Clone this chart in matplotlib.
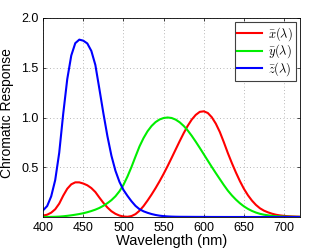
import numpy as np
import matplotlib.pyplot as plt

plt.rcParams['font.family'] = ['Liberation Sans', 'DejaVu Sans']
plt.rcParams['mathtext.fontset'] = 'cm'

# CIE 1931 colour matching functions, 5 nm steps
wavelength = np.arange(400, 725, 5)
x_bar = [0.01431, 0.02319, 0.04351, 0.07763, 0.13438, 0.21477, 0.2839, 0.3285, 0.34828, 0.34806,
         0.3362, 0.3187, 0.2908, 0.2511, 0.19536, 0.1421, 0.09564, 0.05795, 0.03201, 0.0147,
         0.0049, 0.0024, 0.0093, 0.0291, 0.06327, 0.1096, 0.1655, 0.22575, 0.2904, 0.3597,
         0.43345, 0.51205, 0.5945, 0.6784, 0.7621, 0.8425, 0.9163, 0.9786, 1.0263, 1.0567,
         1.0622, 1.0456, 1.0026, 0.9384, 0.85445, 0.7514, 0.6424, 0.5419, 0.4479, 0.3608,
         0.2835, 0.2187, 0.1649, 0.1212, 0.0874, 0.0636, 0.04677, 0.0329, 0.0227, 0.01584,
         0.011359, 0.008111, 0.00579, 0.004109, 0.002899]
y_bar = [0.000396, 0.00064, 0.00121, 0.00218, 0.004, 0.0073, 0.0116, 0.01684, 0.023, 0.0298,
         0.038, 0.048, 0.06, 0.0739, 0.09098, 0.1126, 0.13902, 0.1693, 0.20802, 0.2586,
         0.323, 0.4073, 0.503, 0.6082, 0.71, 0.7932, 0.862, 0.91485, 0.954, 0.9803,
         0.99495, 1.0, 0.995, 0.9786, 0.952, 0.9154, 0.87, 0.8163, 0.757, 0.6949,
         0.631, 0.5668, 0.503, 0.4412, 0.381, 0.321, 0.265, 0.217, 0.175, 0.1382,
         0.107, 0.0816, 0.061, 0.04458, 0.032, 0.0232, 0.017, 0.01192, 0.00821, 0.005723,
         0.004102, 0.002929, 0.002091, 0.001484, 0.001047]
z_bar = [0.06785, 0.1102, 0.2074, 0.3713, 0.6456, 1.03905, 1.3856, 1.62296, 1.74706, 1.7826,
         1.77211, 1.7441, 1.6692, 1.5281, 1.28764, 1.0419, 0.81295, 0.6162, 0.46518, 0.3533,
         0.272, 0.2123, 0.1582, 0.1117, 0.07825, 0.05725, 0.04216, 0.02984, 0.0203, 0.0134,
         0.00875, 0.00575, 0.0039, 0.00275, 0.0021, 0.0018, 0.00165, 0.0014, 0.0011, 0.001,
         0.0008, 0.0006, 0.00034, 0.00024, 0.00019, 0.0001, 0.00005, 0.00003, 0.00002, 0.00001,
         0, 0, 0, 0, 0, 0, 0, 0, 0, 0,
         0, 0, 0, 0, 0]

fig = plt.figure(figsize=(3.32, 2.5), dpi=100)
ax = fig.add_axes([0.13, 0.132, 0.774, 0.796])

ax.plot(wavelength, x_bar, color='#ff0000', lw=1.5, label=r'$\bar{x}(\lambda)$')
ax.plot(wavelength, y_bar, color='#00ee00', lw=1.5, label=r'$\bar{y}(\lambda)$')
ax.plot(wavelength, z_bar, color='#0000ff', lw=1.5, label=r'$\bar{z}(\lambda)$')

ax.set_xlim(400, 720)
ax.set_ylim(0, 2)
ax.set_xticks(range(400, 701, 50))
ax.set_yticks([0.5, 1.0, 1.5, 2.0])
ax.set_yticklabels(['0.5', '1.0', '1.5', '2.0'])
ax.tick_params(direction='in', top=True, right=True, labelsize=9, length=2.5, width=0.5)
ax.grid(True, linestyle=(0, (1, 3)), color='#a0a0a0', lw=0.6)
for s in ax.spines.values():
    s.set_linewidth(0.6)

ax.set_xlabel('Wavelength (nm)', fontsize=10.5, labelpad=0)
ax.set_ylabel('Chromatic Response', fontsize=10)
ax.yaxis.set_label_coords(-0.115, 0.52)

leg = ax.legend(loc='upper right', fontsize=9, fancybox=False, edgecolor='#404040',
                framealpha=1, borderaxespad=0.35, handlelength=2.0, labelspacing=0.0,
                borderpad=0.2, handletextpad=0.5)
leg.get_frame().set_linewidth(0.8)

fig.savefig('out.png', dpi=100)
